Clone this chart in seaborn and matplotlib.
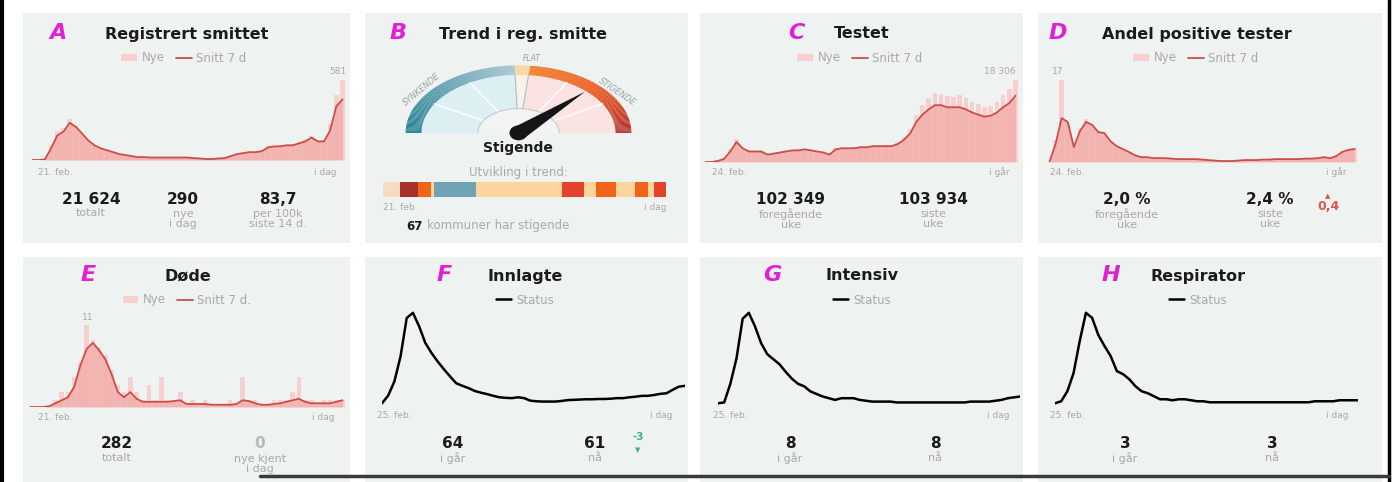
import numpy as np
import pandas as pd
import matplotlib
matplotlib.use("Agg")
import matplotlib.pyplot as plt
import seaborn as sns
from matplotlib.patches import Rectangle, Polygon, Ellipse, Patch
from matplotlib.lines import Line2D
from matplotlib.colors import LinearSegmentedColormap

# ---------------- data (5-day steps from start date to today) ----------------
cases_new = [0, 0, 6, 110, 210, 230, 300, 250, 180, 130, 100, 80, 65, 50, 40, 30, 25, 20, 22, 16,
             18, 20, 15, 19, 16, 20, 12, 10, 6, 8, 12, 16, 35, 50, 45, 65, 55, 70, 105, 95,
             110, 100, 115, 130, 150, 175, 125, 145, 260, 470, 581]
cases_avg = [0, 0, 4, 85, 178, 206, 270, 241, 192, 142, 107, 85, 71, 57, 43, 36, 28, 21, 21, 18,
             18, 18, 18, 18, 18, 18, 14, 11, 7, 7, 11, 14, 28, 43, 50, 57, 57, 64, 92, 99,
             99, 107, 107, 121, 135, 163, 135, 135, 213, 390, 440]
tests_new = [0, 0, 300, 900, 2800, 5200, 2900, 2600, 2200, 2500, 1500, 2100, 2000, 2600, 2400, 2800,
             3000, 2500, 2500, 2000, 1800, 3200, 3300, 2900, 3400, 3500, 3100, 3900, 3600, 3800,
             3700, 4500, 5600, 7400, 10500, 12800, 14200, 15300, 15100, 14800, 14600, 14900,
             14300, 13400, 12900, 12300, 12600, 13500, 15000, 16200, 18306]
tests_avg = [0, 0, 240, 700, 2350, 4470, 3060, 2350, 2350, 2350, 1650, 1880, 2120, 2350, 2590, 2590,
             2820, 2590, 2350, 2120, 1650, 2820, 3060, 3060, 3060, 3290, 3290, 3530, 3530, 3530,
             3530, 4000, 4940, 6350, 8930, 10580, 11750, 12690, 12690, 12220, 12220, 12220,
             11750, 11050, 10580, 10110, 10340, 11050, 12220, 13160, 14810]
pos_new = [0, 4.5, 17, 8.0, 2.5, 7.0, 9.0, 7.0, 6.5, 5.5, 4.0, 3.0, 2.5, 2.0, 1.2, 1.1, 0.9, 0.8, 0.9, 0.7,
           0.7, 0.6, 0.5, 0.6, 0.5, 0.5, 0.4, 0.3, 0.2, 0.3, 0.2, 0.3, 0.4, 0.5, 0.4, 0.5, 0.6, 0.6, 0.5, 0.7,
           0.6, 0.7, 0.7, 0.8, 0.8, 1.1, 0.9, 1.4, 2.3, 2.6, 2.9]
pos_avg = [0, 3.7, 9.1, 8.3, 3.1, 6.4, 8.3, 7.7, 6.2, 6.0, 4.3, 3.3, 2.7, 2.1, 1.4, 1.0, 1.0, 0.8, 0.8, 0.8,
           0.7, 0.6, 0.6, 0.6, 0.6, 0.5, 0.4, 0.3, 0.2, 0.2, 0.2, 0.3, 0.4, 0.4, 0.4, 0.5, 0.5, 0.6, 0.6, 0.6,
           0.6, 0.6, 0.7, 0.7, 0.8, 1.0, 0.8, 1.2, 2.1, 2.5, 2.7]
deaths_new = [0, 0, 0, 0, 1, 2, 2, 4, 6, 11, 9, 8, 7, 5, 3, 2, 4, 2, 1, 3,
              1, 4, 1, 1, 2, 0, 1, 0, 1, 0, 0, 0, 1, 0, 4, 1, 1, 0, 0, 1,
              1, 1, 2, 4, 1, 1, 0, 1, 1, 1, 1]
deaths_avg = [0, 0, 0, 0.1, 0.5, 0.9, 1.3, 2.7, 5.6, 7.8, 8.6, 7.6, 6.4, 4.4, 2.0, 1.3, 2.0, 1.1, 0.7, 0.7,
              0.7, 0.7, 0.7, 0.8, 0.9, 0.4, 0.4, 0.4, 0.4, 0.3, 0.3, 0.3, 0.3, 0.4, 0.9, 0.8, 0.5, 0.3, 0.3, 0.4,
              0.5, 0.7, 0.9, 1.1, 0.7, 0.5, 0.5, 0.5, 0.5, 0.7, 0.9]
hosp = [0, 27, 76, 164, 298, 316, 269, 211, 176, 146, 119, 94, 70, 61, 53, 43, 37, 32, 26, 21,
        19, 18, 21, 18, 9, 7, 6, 6, 6, 8, 11, 12, 13, 14, 14, 15, 15, 16, 18, 18,
        21, 23, 26, 26, 29, 33, 35, 47, 58, 61]
icu = [0, 1, 23, 53, 100, 107, 91, 71, 58, 52, 46, 37, 29, 23, 20, 14, 11, 8, 6, 4,
       6, 6, 6, 4, 3, 2, 2, 2, 2, 1, 1, 1, 1, 1, 1, 1, 1, 1, 1, 1,
       1, 2, 2, 2, 2, 3, 4, 6, 7, 8]
resp = [0, 2, 12, 30, 62, 90, 85, 68, 57, 47, 32, 29, 24, 17, 12, 10, 7, 4, 4, 3,
        4, 4, 3, 2, 2, 1, 1, 1, 1, 1, 1, 1, 1, 1, 1, 1, 1, 1, 1, 1,
        1, 1, 2, 2, 2, 2, 3, 3, 3, 3]
trend_days = [15, 16, 11, 3, 37, 76, 20, 10, 18, 17, 11, 5, 11]
trend_state = ["flat0", "vup", "up", "flat", "down", "flat", "sup", "flat", "up", "flat", "up", "flat", "sup"]
gauge_angle = 46  # degrees, needle direction ("Stigende")

# ---------------- style ----------------
sns.set_theme(style="white")
plt.rcParams["font.family"] = ["DejaVu Sans"]

W, H = 1394, 482
CARD = "#eef2f1"
GREY = "#a9a9a9"
DARK = "#1b1b1b"
MAG = "#e21ed6"
PINK_BAR = "#f8cfcf"
PINK_FILL = "#f3aeab"
RED_LINE = "#cc4d48"

fig = plt.figure(figsize=(W / 100, H / 100), dpi=100)
fig.patch.set_facecolor("white")


def fx(x):
    return x / W


def fy(y):
    return 1 - y / H


def box(x0, y0, x1, y1):
    return [x0 / W, 1 - y1 / H, (x1 - x0) / W, (y1 - y0) / H]


def t(x, y, s, **kw):
    kw.setdefault("ha", "center")
    kw.setdefault("va", "center")
    fig.text(fx(x), fy(y), s, **kw)


# cards
for (x0, x1) in [(23, 350), (365, 688), (700, 1023), (1038, 1382)]:
    for (y0, y1) in [(13, 243), (257, 482)]:
        fig.add_artist(Rectangle((fx(x0), fy(y1)), (x1 - x0) / W, (y1 - y0) / H,
                                 transform=fig.transFigure, facecolor=CARD, edgecolor="none", zorder=0))

# titles
titles = [("A", 58, 33, "Registrert smittet", 187), ("B", 398, 33, "Trend i reg. smitte", 523),
          ("C", 796, 33, "Testet", 862), ("D", 1058, 33, "Andel positive tester", 1197),
          ("E", 88, 275, "Døde", 188), ("F", 444, 275, "Innlagte", 525),
          ("G", 772, 275, "Intensiv", 862), ("H", 1111, 275, "Respirator", 1198)]
for letter, lx, ly, title, tx in titles:
    t(lx, ly, letter, color=MAG, fontsize=16, fontweight="bold", style="italic")
    t(tx, ly + 1, title, color=DARK, fontsize=11.5, fontweight="bold")


def legend_bars(cx, cy, lab2):
    fig.legend(handles=[Patch(facecolor=PINK_BAR, edgecolor="none"),
                        Line2D([], [], color=RED_LINE, lw=1.3)],
               labels=["Nye", lab2], loc="center", bbox_to_anchor=(fx(cx), fy(cy)),
               ncol=2, frameon=False, fontsize=8.5, labelcolor=GREY, handlelength=1.3,
               handleheight=0.6, columnspacing=1.0, handletextpad=0.4)


def legend_status(cx, cy):
    fig.legend(handles=[Line2D([], [], color="black", lw=1.8)], labels=["Status"],
               loc="center", bbox_to_anchor=(fx(cx), fy(cy)), frameon=False,
               fontsize=8.5, labelcolor=GREY, handlelength=1.3, handletextpad=0.4)


def bar_panel(rect, new, avg, top):
    ax = fig.add_axes(rect)
    days = np.arange(len(new)) * 5
    df = pd.DataFrame({"day": days, "new": new, "avg": avg})
    ax.bar(df["day"], df["new"], width=3.6, color=PINK_BAR, linewidth=0, zorder=1)
    ax.fill_between(df["day"], 0, df["avg"], color=PINK_FILL, alpha=0.85, linewidth=0, zorder=2)
    sns.lineplot(data=df, x="day", y="avg", ax=ax, color=RED_LINE, lw=1.3, zorder=3)
    ax.set_xlim(days[0] - 2, days[-1] + 2)
    ax.set_ylim(0, top)
    ax.axis("off")
    ax.patch.set_alpha(0)
    return ax


def line_panel(rect, vals):
    ax = fig.add_axes(rect)
    days = np.arange(len(vals)) * 5
    df = pd.DataFrame({"day": days, "v": vals})
    sns.lineplot(data=df, x="day", y="v", ax=ax, color="black", lw=1.8)
    ax.set_xlim(days[0], days[-1])
    top = max(vals)
    ax.set_ylim(-0.03 * top, top * 1.02)
    ax.axis("off")
    ax.patch.set_alpha(0)
    return ax


# ---- A
legend_bars(184, 58, "Snitt 7 d")
bar_panel(box(30, 80, 345, 160), cases_new, cases_avg, max(cases_new))
t(338, 72, str(max(cases_new)), color=GREY, fontsize=6.5)
t(38, 172, "21. feb.", color=GREY, fontsize=6.5, ha="left")
t(337, 172, "i dag", color=GREY, fontsize=6.5, ha="right")

# ---- C
legend_bars(860, 58, "Snitt 7 d")
bar_panel(box(703, 80, 1018, 162), tests_new, tests_avg, max(tests_new))
t(1000, 72, f"{max(tests_new):,}".replace(",", " "), color=GREY, fontsize=6.5)
t(712, 172, "24. feb.", color=GREY, fontsize=6.5, ha="left")
t(1010, 172, "i går", color=GREY, fontsize=6.5, ha="right")

# ---- D
legend_bars(1196, 58, "Snitt 7 d")
bar_panel(box(1047, 80, 1357, 162), pos_new, pos_avg, max(pos_new))
t(1058, 72, f"{max(pos_new):.0f}", color=GREY, fontsize=6.5)
t(1050, 172, "24. feb.", color=GREY, fontsize=6.5, ha="left")
t(1346, 172, "i går", color=GREY, fontsize=6.5, ha="right")

# ---- E
legend_bars(187, 300, "Snitt 7 d.")
bar_panel(box(28, 325, 345, 407), deaths_new, deaths_avg, max(deaths_new))
t(88, 317, str(max(deaths_new)), color=GREY, fontsize=6.5)
t(38, 417, "21. feb.", color=GREY, fontsize=6.5, ha="left")
t(335, 417, "i dag", color=GREY, fontsize=6.5, ha="right")

# ---- F, G, H
for cx, rect, vals, x0, x1 in [(525, box(382, 311, 685, 406), hosp, 377, 673),
                               (862, box(718, 311, 1020, 406), icu, 713, 1010),
                               (1198, box(1055, 311, 1358, 406), resp, 1050, 1348)]:
    legend_status(cx, 300)
    line_panel(rect, vals)
    t(x0, 416, "25. feb.", color=GREY, fontsize=6.5, ha="left")
    t(x1, 416, "i dag", color=GREY, fontsize=6.5, ha="right")


# ---- stats
def stat(x, y, num, label, ncol=DARK, bold=True):
    t(x, y, num, color=ncol, fontsize=11, fontweight="bold" if bold else "normal")
    nlines = label.count("\n") + 1
    t(x, y + 14 + 6 * (nlines - 1), label, color=GREY, fontsize=8, va="center", linespacing=1.05)


stat(91, 199, "21 624", "totalt")
stat(183, 199, "290", "nye\ni dag")
stat(278, 199, "83,7", "per 100k\nsiste 14 d.")
stat(791, 199, "102 349", "foregående\nuke")
stat(933, 199, "103 934", "siste\nuke")
stat(1127, 199, "2,0 %", "foregående\nuke")
stat(1270, 199, "2,4 %", "siste\nuke")
t(1328, 207, "0,4", color="#e0554d", fontsize=9, fontweight="bold")
t(1328, 196, "▲", color="#e0554d", fontsize=5)

stat(117, 444, "282", "totalt")
stat(260, 444, "0", "nye kjent\ni dag", ncol="#b8b8b8")
stat(453, 444, "64", "i går")
stat(595, 444, "61", "nå")
t(638, 437, "-3", color="#3fae9f", fontsize=7.5, fontweight="bold")
t(638, 450, "▼", color="#3fae9f", fontsize=5)
stat(790, 444, "8", "i går")
stat(935, 444, "8", "nå")
stat(1125, 444, "3", "i går")
stat(1272, 444, "3", "nå")

# ---- B: gauge
gax = fig.add_axes(box(400, 62, 637, 141))
gax.set_xlim(-1.05, 1.05)
gax.set_ylim(-0.12, 1.05)
gax.axis("off")
gax.patch.set_alpha(0)


def arc_pts(r, a0, a1, n=60):
    a = np.radians(np.linspace(a0, a1, n))
    return np.column_stack([r * np.cos(a), r * np.sin(a)])


R_OUT, R_IN, R_HUB = 1.0, 0.86, 0.36
gax.add_patch(Polygon(np.vstack([[0, 0], arc_pts(R_IN, 92, 180)]), closed=True,
                      facecolor="#dcf0f4", edgecolor="none"))
gax.add_patch(Polygon(np.vstack([[0, 0], arc_pts(R_IN, 0, 84)]), closed=True,
                      facecolor="#fbe3e1", edgecolor="none"))
gax.add_patch(Polygon(np.vstack([[0, 0], arc_pts(R_IN, 84, 92)]), closed=True,
                      facecolor="#f7f2ea", edgecolor="none"))
for a in [150, 120, 60, 30]:
    gax.plot([R_HUB * np.cos(np.radians(a)), R_IN * np.cos(np.radians(a))],
             [R_HUB * np.sin(np.radians(a)), R_IN * np.sin(np.radians(a))], color="white", lw=1.0)
for a in [84, 92]:
    gax.plot([R_HUB * np.cos(np.radians(a)), R_IN * np.cos(np.radians(a))],
             [R_HUB * np.sin(np.radians(a)), R_IN * np.sin(np.radians(a))], color="#b9b9b9", lw=0.8)

cm_down = LinearSegmentedColormap.from_list("down", ["#1f7f8e", "#5e9fb0", "#a8c8d2"])
cm_up = LinearSegmentedColormap.from_list("up", ["#f6812e", "#ec5a22", "#b22d28"])
for a in range(0, 180):
    if a >= 92:
        col = cm_down((180 - a) / 88)
    elif a >= 84:
        col = "#f9d6a0"
    else:
        col = cm_up((84 - a) / 84)
    pts = np.vstack([arc_pts(R_OUT, a, a + 1.05, 4), arc_pts(R_IN, a + 1.05, a, 4)])
    gax.add_patch(Polygon(pts, closed=True, facecolor=col, edgecolor="none"))

gax.add_patch(Polygon(np.vstack([arc_pts(R_HUB, 0, 180)]), closed=True,
                      facecolor="#f1f4f3", edgecolor="none"))
hub_arc = arc_pts(R_HUB, 0, 180)
gax.plot(hub_arc[:, 0], hub_arc[:, 1], color="#c9c9c9", lw=0.8)

ang = np.radians(gauge_angle)
tip = np.array([0.85 * np.cos(ang), 0.85 * np.sin(ang)])
perp = np.array([-np.sin(ang), np.cos(ang)])
needle = np.array([tip, 0.09 * perp, -0.06 * tip / 0.85, -0.09 * perp])
gax.add_patch(Polygon(needle, closed=True, facecolor="#151515", edgecolor="none", zorder=5))
gax.add_patch(Ellipse((0, 0), 0.16, 0.22, facecolor="#151515", edgecolor="none", zorder=6))

gax.text(1.07 * np.cos(np.radians(143)), 1.07 * np.sin(np.radians(143)), "SYNKENDE", rotation=40,
         ha="center", va="center", fontsize=6, color="#9aa3a6", style="italic", clip_on=False)
gax.text(0.12, 1.1, "FLAT", ha="center", va="center", fontsize=5.5, color="#9aa3a6",
         style="italic", clip_on=False)
gax.text(1.07 * np.cos(np.radians(35)), 1.07 * np.sin(np.radians(35)), "STIGENDE", rotation=-34,
         ha="center", va="center", fontsize=6, color="#9aa3a6", style="italic", clip_on=False)

t(518, 148, "Stigende", color=DARK, fontsize=10, fontweight="bold")
t(518, 172, "Utvikling i trend:", color=GREY, fontsize=8.5)

STATE_COL = {"flat0": "#f6dcc0", "flat": "#fcd59d", "down": "#6fa3b5", "up": "#f0631a",
             "sup": "#e4432b", "vup": "#a6322b"}
sax = fig.add_axes(box(383, 182, 666, 197))
left = 0
for d, s in zip(trend_days, trend_state):
    sax.barh(0, d, left=left, height=1, color=STATE_COL[s], linewidth=0)
    left += d
sax.set_xlim(0, sum(trend_days))
sax.set_ylim(-0.5, 0.5)
sax.axis("off")
t(383, 207, "21. feb.", color=GREY, fontsize=6.5, ha="left")
t(666, 207, "i dag", color=GREY, fontsize=6.5, ha="right")
t(423, 226, "67", color=DARK, fontsize=8.5, fontweight="bold", ha="right")
t(427, 226, "kommuner har stigende", color=GREY, fontsize=8.5, ha="left")

# ---- frame lines of the screenshot
fig.add_artist(Line2D([fx(2), fx(2)], [0, 1], transform=fig.transFigure, color="black", lw=3))
fig.add_artist(Line2D([fx(1389), fx(1389)], [0, 1], transform=fig.transFigure, color="black", lw=2.5))
fig.add_artist(Line2D([fx(260), fx(1389)], [fy(476), fy(476)], transform=fig.transFigure,
                      color="#3a3a3a", lw=2.5))

fig.savefig("out.png", dpi=100)
